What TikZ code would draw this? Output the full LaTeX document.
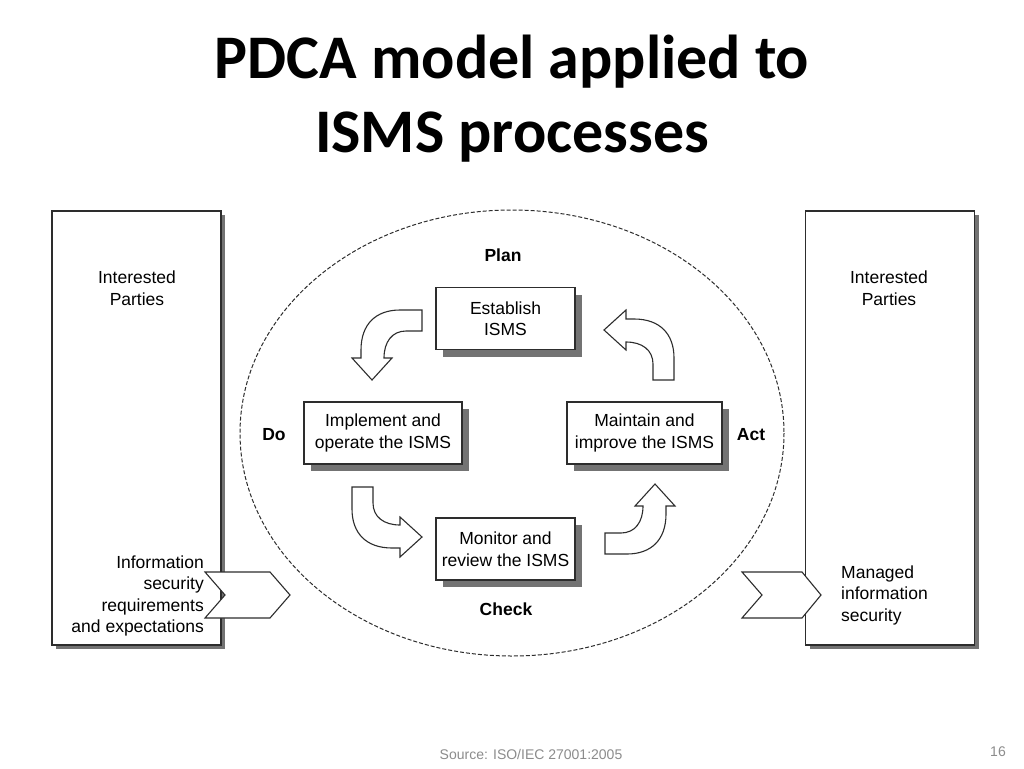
\documentclass[tikz,border=0pt]{standalone}
\usepackage{fontspec}
\setmainfont{Liberation Sans}
\newfontfamily\titlefont{Carlito}
\definecolor{framegray}{RGB}{45, 45, 45}
\definecolor{shadowgray}{RGB}{115, 115, 115}
\definecolor{footgray}{RGB}{140, 140, 140}
\usetikzlibrary{shadows, positioning}

\begin{document}
\begin{tikzpicture}[x=1pt, y=-1pt,
  partybox/.style={draw=framegray, fill=white, line width=1.3pt, minimum width=169pt, minimum height=434pt, inner sep=0pt, drop shadow={shadow xshift=4pt, shadow yshift=-4pt, fill=shadowgray, opacity=1}},
  stagebox/.style={draw=framegray, fill=white, line width=1.1pt, minimum height=62pt, align=center, inner sep=0pt, font=\fontsize{17.5}{21.5}\selectfont, drop shadow={shadow xshift=7pt, shadow yshift=-7pt, fill=shadowgray, opacity=1}},
  phase/.style={anchor=base, inner sep=0pt, font=\fontsize{17.5}{21}\selectfont\bfseries},
  sidetext/.style={inner sep=0pt, font=\fontsize{17.5}{21.5}\selectfont},
  chevron/.style={draw=framegray, fill=white, line width=1.1pt, line join=miter},
  turnarrow/.pic={
    \draw[draw=framegray, fill=white, line width=1.1pt]
      (0,0) -- (0,22) .. controls (0,46) and (14,61) .. (40,61) -- (48,61) -- (48,70)
      -- (70,50) -- (48,30) -- (48,38) .. controls (32,38) and (21,30) .. (21,16) -- (21,0) -- cycle;
  }
]
  \fill[white] (0,0) rectangle (1024,768);
  \useasboundingbox (0,0) rectangle (1024,768);

  % Title
  \node[anchor=base, inner sep=0pt, font=\titlefont\bfseries\fontsize{62}{74}\selectfont] (titletop) at (512,78) {PDCA model applied to};
  \node[anchor=base, inner sep=0pt, font=\titlefont\bfseries\fontsize{62}{74}\selectfont] (titlebottom) at (512,152) {ISMS processes};

  % Interested parties
  \node[partybox] (leftparty) at (136.5,428) {};
  \node[partybox] (rightparty) at (890,428) {};
  \node[sidetext, align=center] (leftint) at (137,288) {Interested\\Parties};
  \node[sidetext, align=center] (rightint) at (889,288) {Interested\\Parties};
  \node[sidetext, align=right, anchor=east] (leftreq) at (204,596) {Information\\security\\requirements\\and expectations};
  \node[sidetext, align=left, anchor=west] (rightmgd) at (841,595) {Managed\\information\\security};

  % PDCA cycle
  \draw[framegray, line width=1pt, dash pattern=on 4pt off 2pt] (512,433) ellipse [x radius=272, y radius=223];

  \node[stagebox, minimum width=139pt] (establish) at (505.5,318.5) {Establish\\ISMS};
  \node[stagebox, minimum width=158pt] (implement) at (383,433) {Implement and\\operate the ISMS};
  \node[stagebox, minimum width=155pt] (maintain) at (644.5,433) {Maintain and\\improve the ISMS};
  \node[stagebox, minimum width=139pt] (monitor) at (505.5,549) {Monitor and\\review the ISMS};

  \node[phase] (plan) at (503,261.5) {Plan};
  \node[phase] (do) at (274,440) {Do};
  \node[phase] (act) at (751,440) {Act};
  \node[phase] (check) at (506,615.5) {Check};

  % Turning arrows
  \pic[rotate=-90] at (422,310) {turnarrow};
  \pic at (352,487) {turnarrow};
  \pic[rotate=90] at (605,554) {turnarrow};
  \pic[rotate=180] at (674,380) {turnarrow};

  % Inputs and outputs
  \draw[chevron] (205,572) -- (270,572) -- (290,595) -- (270,618) -- (205,618) -- (225,595) -- cycle;
  \draw[chevron] (742,572) -- (802,572) -- (821,595) -- (802,618) -- (742,618) -- (762,595) -- cycle;

  % Footer
  \node[anchor=base, inner sep=0pt, text=footgray, font=\fontsize{14}{16}\selectfont] (source) at (531,759) {Source: ISO/IEC 27001:2005};
  \node[anchor=base, inner sep=0pt, text=footgray, font=\fontsize{14}{16}\selectfont] (pagenum) at (998,756) {16};
\end{tikzpicture}
\end{document}
